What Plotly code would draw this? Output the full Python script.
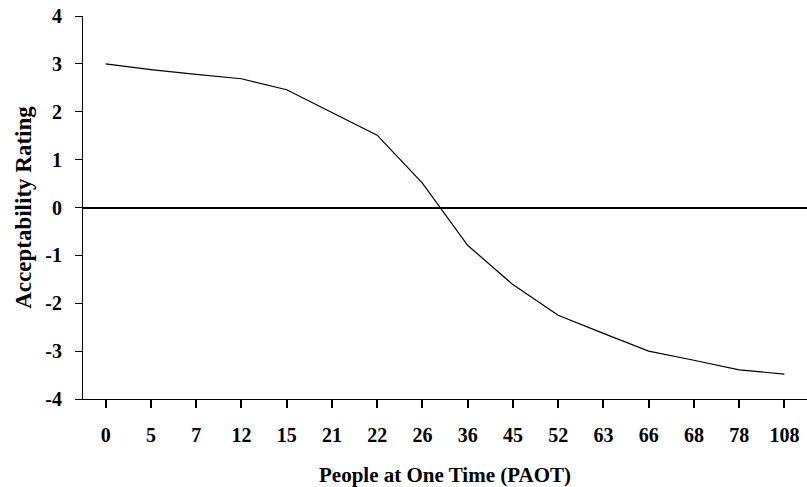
import plotly.graph_objects as go

paot_labels = ["0", "5", "7", "12", "15", "21", "22", "26", "36", "45", "52", "63", "66", "68", "78", "108"]
acceptability = [3.0, 2.88, 2.78, 2.69, 2.46, 1.99, 1.51, 0.51, -0.79, -1.61, -2.25, -2.63, -3.0, -3.19, -3.39, -3.48]
y_ticks = [-4, -3, -2, -1, 0, 1, 2, 3, 4]
y_tick_text = ["-4", "-3", "-2", "-1", "0", "1", "2", "3", "4"]

font_family = "Liberation Serif"

fig = go.Figure()
fig.add_trace(go.Scatter(
    x=paot_labels, y=acceptability, mode="lines",
    line=dict(color="black", width=1.2), showlegend=False,
))

fig.update_layout(
    width=807, height=487,
    margin=dict(l=83, r=0, t=16, b=88),
    paper_bgcolor="white", plot_bgcolor="white",
    font=dict(family=font_family, color="black", size=20),
)
fig.update_xaxes(
    type="category", range=[-0.5, 15.5], automargin=False,
    showline=True, linecolor="black", linewidth=1,
    ticks="outside", ticklen=8, tickcolor="black", tickwidth=1.5,
    ticklabelstandoff=10, ticklabeloverflow="allow",
    tickfont=dict(family=font_family, size=20, weight="bold"),
    showgrid=False, zeroline=False,
    title=dict(text="<b>People at One Time (PAOT)</b>", font=dict(family=font_family, size=21), standoff=22),
)
fig.update_yaxes(
    range=[-4, 4], tickvals=y_ticks, ticktext=y_tick_text, automargin=False,
    showline=True, linecolor="black", linewidth=1,
    ticks="outside", ticklen=7, tickcolor="black", tickwidth=1,
    ticklabelstandoff=9, ticklabeloverflow="allow",
    tickfont=dict(family=font_family, size=20, weight="bold"),
    showgrid=False, zeroline=True, zerolinecolor="black", zerolinewidth=2,
    title=dict(text="<b>Acceptability Rating</b>", font=dict(family=font_family, size=23), standoff=7),
)

# remove the browser's default 8 px body margin so the figure fills the window
fig.write_html(
    "out.html",
    config={"displayModeBar": False},
    post_script="document.body.style.margin='0';",
)
